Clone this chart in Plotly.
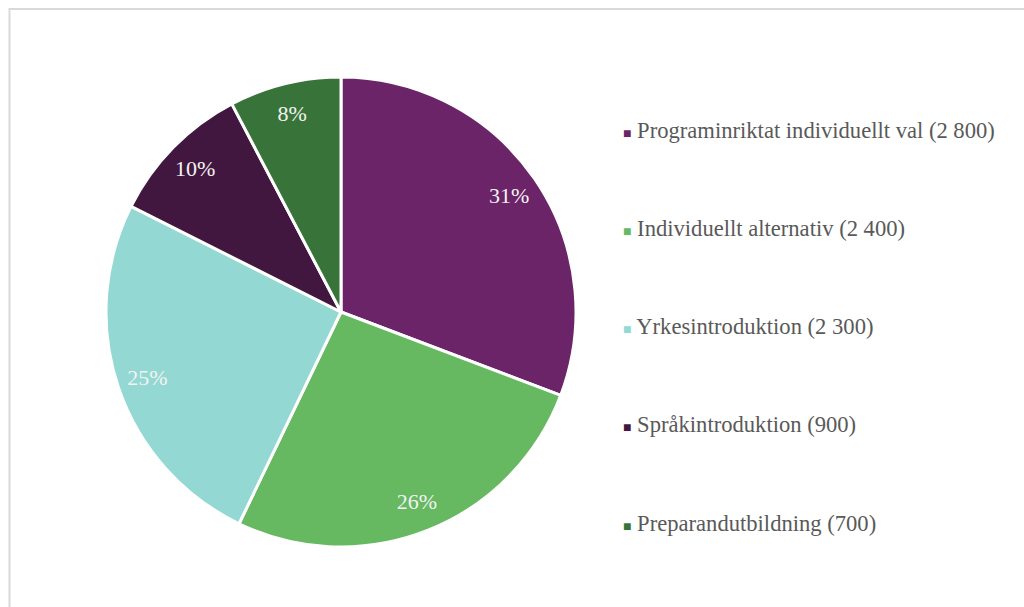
import plotly.graph_objects as go

# Data
labels = ["Programinriktat individuellt val", "Individuellt alternativ",
          "Yrkesintroduktion", "Språkintroduktion", "Preparandutbildning"]
counts = [2800, 2400, 2300, 900, 700]
count_labels = ["2 800", "2 400", "2 300", "900", "700"]
colors = ["#6b2468", "#66b861", "#93d8d3", "#42173f", "#38743a"]

font_family = "Liberation Serif, Times New Roman, serif"
pie_domain = dict(x=[106 / 1024, 576 / 1024], y=[1 - 547 / 607, 1 - 77 / 607])

fig = go.Figure()
# the slices themselves
fig.add_trace(go.Pie(
    labels=labels,
    values=counts,
    sort=False,
    direction="clockwise",
    rotation=0,
    marker=dict(colors=colors, line=dict(color="white", width=3)),
    textinfo="none",
    domain=pie_domain,
    showlegend=False,
))
# transparent ring on top, only to put the % labels out near the rim
fig.add_trace(go.Pie(
    labels=labels,
    values=counts,
    sort=False,
    direction="clockwise",
    rotation=0,
    hole=0.74,
    marker=dict(colors=["rgba(0,0,0,0)"] * len(counts), line=dict(width=0)),
    texttemplate="%{percent:.0%}",
    textposition="inside",
    insidetextorientation="horizontal",
    textfont=dict(family=font_family, size=22, color="#f2f2f2"),
    hoverinfo="skip",
    domain=pie_domain,
    showlegend=False,
))

# Hand-built legend (wide spacing between entries)
legend_top = 1 - 130 / 607
legend_step = 98.3 / 607
annotations = []
for i, (lab, cl, col) in enumerate(zip(labels, count_labels, colors)):
    annotations.append(dict(
        x=621 / 1024, y=legend_top - i * legend_step,
        xref="paper", yref="paper", xanchor="left", yanchor="middle",
        showarrow=False,
        text=f'<span style="color:{col};font-size:14px">■</span> {lab} ({cl})',
        font=dict(family=font_family, size=22.6, color="#595959"),
    ))

fig.update_layout(
    width=1024, height=607,
    margin=dict(l=0, r=0, t=0, b=0),
    paper_bgcolor="white",
    annotations=annotations,
    shapes=[dict(type="rect", xref="paper", yref="paper",
                 x0=9.5 / 1024, x1=1.05, y0=-0.05, y1=1 - 9 / 607,
                 line=dict(color="#d9d9d9", width=2))],
)

fig.write_html("out.html", config={"displayModeBar": False},
               post_script="document.body.style.margin='0';")
